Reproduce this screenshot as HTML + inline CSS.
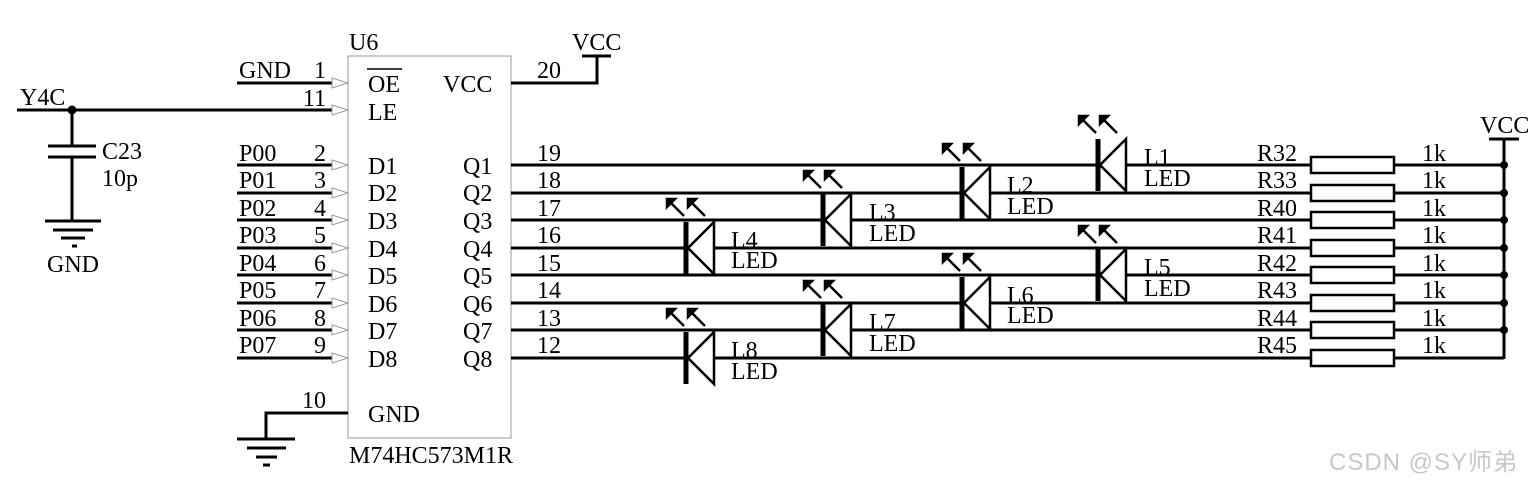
<!DOCTYPE html>
<html><head><meta charset="utf-8"><style>
html,body{margin:0;padding:0;background:#fff;}
svg{display:block;}
text{font-family:"Liberation Serif","DejaVu Serif",serif;font-size:24px;fill:#000;}
.wm{font-family:"Liberation Sans","Noto Sans CJK SC",sans-serif;font-size:24px;fill:#c8c8c8;letter-spacing:1px;}
</style></head><body>
<svg width="1537" height="487" viewBox="0 0 1537 487" xmlns="http://www.w3.org/2000/svg">
<defs>
<g id="arr"><line x1="0" y1="0" x2="-15" y2="-15" stroke="#000" stroke-width="2.5"/><polygon points="-17,-17 -9,-17 -17,-9" fill="#000"/></g>
<g id="led" stroke="#000" stroke-width="2.5" fill="#fff">
<polygon points="28,-26 2,0 28,26"/>
<rect x="-2.5" y="-26" width="5" height="52" fill="#000" stroke="none"/>
<use href="#arr" x="-2" y="-32"/><use href="#arr" x="19" y="-32"/>
</g>
</defs>
<rect x="348" y="56" width="163" height="382" fill="none" stroke="#aaa" stroke-width="1.2"/>
<g stroke="#000" stroke-width="3">
<line x1="237" y1="83" x2="333" y2="83"/>
<line x1="17" y1="110" x2="333" y2="110"/>
<line x1="237" y1="165" x2="333" y2="165"/><line x1="237" y1="193" x2="333" y2="193"/>
<line x1="237" y1="220" x2="333" y2="220"/><line x1="237" y1="248" x2="333" y2="248"/>
<line x1="237" y1="275" x2="333" y2="275"/><line x1="237" y1="303" x2="333" y2="303"/>
<line x1="237" y1="330" x2="333" y2="330"/><line x1="237" y1="358" x2="333" y2="358"/>
<polyline points="348,413 266,413 266,439" fill="none"/>
<line x1="237" y1="439" x2="295" y2="439"/><line x1="247" y1="448" x2="286" y2="448"/>
<line x1="256" y1="457" x2="277" y2="457"/><line x1="263" y1="465" x2="270" y2="465"/>
<line x1="72" y1="110" x2="72" y2="146"/><line x1="48" y1="146" x2="96" y2="146"/>
<line x1="48" y1="157" x2="96" y2="157"/><line x1="72" y1="157" x2="72" y2="221"/>
<line x1="45" y1="221" x2="101" y2="221"/><line x1="53" y1="230" x2="93" y2="230"/>
<line x1="61" y1="238" x2="85" y2="238"/><line x1="72" y1="246" x2="77" y2="246"/>
<polyline points="511,83 597,83 597,56" fill="none"/><line x1="582" y1="56" x2="611" y2="56"/>
<line x1="511" y1="165" x2="1311" y2="165"/><line x1="511" y1="193" x2="1311" y2="193"/>
<line x1="511" y1="220" x2="1311" y2="220"/><line x1="511" y1="248" x2="1311" y2="248"/>
<line x1="511" y1="275" x2="1311" y2="275"/><line x1="511" y1="303" x2="1311" y2="303"/>
<line x1="511" y1="330" x2="1311" y2="330"/><line x1="511" y1="358" x2="1311" y2="358"/>
<line x1="1394" y1="165" x2="1504" y2="165"/><line x1="1394" y1="193" x2="1504" y2="193"/>
<line x1="1394" y1="220" x2="1504" y2="220"/><line x1="1394" y1="248" x2="1504" y2="248"/>
<line x1="1394" y1="275" x2="1504" y2="275"/><line x1="1394" y1="303" x2="1504" y2="303"/>
<line x1="1394" y1="330" x2="1504" y2="330"/><line x1="1394" y1="358" x2="1504" y2="358"/>
<line x1="1504" y1="139" x2="1504" y2="359"/><line x1="1489" y1="139" x2="1519" y2="139"/>
</g>
<g fill="#fff" stroke="#000" stroke-width="2.5">
<rect x="1311" y="157" width="83" height="16"/><rect x="1311" y="185" width="83" height="16"/>
<rect x="1311" y="212" width="83" height="16"/><rect x="1311" y="240" width="83" height="16"/>
<rect x="1311" y="267" width="83" height="16"/><rect x="1311" y="295" width="83" height="16"/>
<rect x="1311" y="322" width="83" height="16"/><rect x="1311" y="350" width="83" height="16"/>
</g>
<g fill="#000">
<circle cx="72" cy="110" r="4.5"/>
<circle cx="1504" cy="165" r="4"/><circle cx="1504" cy="193" r="4"/><circle cx="1504" cy="220" r="4"/>
<circle cx="1504" cy="248" r="4"/><circle cx="1504" cy="275" r="4"/><circle cx="1504" cy="303" r="4"/>
<circle cx="1504" cy="330" r="4"/>
</g>
<g fill="#fff" stroke="#999" stroke-width="1">
<polygon points="332,78 348,83 332,88"/><polygon points="332,105 348,110 332,115"/>
<polygon points="332,160 348,165 332,170"/><polygon points="332,188 348,193 332,198"/>
<polygon points="332,215 348,220 332,225"/><polygon points="332,243 348,248 332,253"/>
<polygon points="332,270 348,275 332,280"/><polygon points="332,298 348,303 332,308"/>
<polygon points="332,325 348,330 332,335"/><polygon points="332,353 348,358 332,363"/>
</g>
<use href="#led" x="1098" y="165"/><use href="#led" x="962" y="193"/>
<use href="#led" x="823" y="220"/><use href="#led" x="686" y="248"/>
<use href="#led" x="1098" y="275"/><use href="#led" x="962" y="303"/>
<use href="#led" x="823" y="330"/><use href="#led" x="686" y="358"/>
<text x="349" y="50">U6</text>
<text x="349" y="463">M74HC573M1R</text>
<text x="20" y="105">Y4C</text>
<text x="102" y="159">C23</text><text x="102" y="186">10p</text>
<text x="47" y="272">GND</text>
<text x="239" y="78">GND</text>
<text x="239" y="161">P00</text><text x="239" y="188">P01</text><text x="239" y="216">P02</text>
<text x="239" y="243">P03</text><text x="239" y="271">P04</text><text x="239" y="298">P05</text>
<text x="239" y="326">P06</text><text x="239" y="353">P07</text>
<g text-anchor="end">
<text x="326" y="78">1</text><text x="326" y="106">11</text>
<text x="326" y="161">2</text><text x="326" y="188">3</text><text x="326" y="216">4</text>
<text x="326" y="243">5</text><text x="326" y="271">6</text><text x="326" y="298">7</text>
<text x="326" y="326">8</text><text x="326" y="353">9</text>
<text x="326" y="408">10</text>
</g>
<text x="368" y="92">OE</text><line x1="367" y1="69" x2="402" y2="69" stroke="#000" stroke-width="1.5"/>
<text x="368" y="120">LE</text>
<text x="443" y="92">VCC</text>
<text x="368" y="174">D1</text><text x="368" y="201">D2</text><text x="368" y="229">D3</text>
<text x="368" y="257">D4</text><text x="368" y="284">D5</text><text x="368" y="312">D6</text>
<text x="368" y="339">D7</text><text x="368" y="367">D8</text>
<text x="368" y="422">GND</text>
<text x="463" y="174">Q1</text><text x="463" y="201">Q2</text><text x="463" y="229">Q3</text>
<text x="463" y="257">Q4</text><text x="463" y="284">Q5</text><text x="463" y="312">Q6</text>
<text x="463" y="339">Q7</text><text x="463" y="367">Q8</text>
<text x="537" y="78">20</text>
<text x="537" y="161">19</text><text x="537" y="188">18</text><text x="537" y="216">17</text>
<text x="537" y="243">16</text><text x="537" y="271">15</text><text x="537" y="298">14</text>
<text x="537" y="326">13</text><text x="537" y="353">12</text>
<text x="572" y="50">VCC</text>
<text x="1480" y="133">VCC</text>
<text x="1144" y="165">L1</text><text x="1144" y="186">LED</text>
<text x="1007" y="193">L2</text><text x="1007" y="214">LED</text>
<text x="869" y="220">L3</text><text x="869" y="241">LED</text>
<text x="731" y="248">L4</text><text x="731" y="268">LED</text>
<text x="1144" y="275">L5</text><text x="1144" y="296">LED</text>
<text x="1007" y="303">L6</text><text x="1007" y="323">LED</text>
<text x="869" y="330">L7</text><text x="869" y="351">LED</text>
<text x="731" y="358">L8</text><text x="731" y="379">LED</text>
<text x="1257" y="161">R32</text><text x="1257" y="188">R33</text><text x="1257" y="216">R40</text>
<text x="1257" y="243">R41</text><text x="1257" y="271">R42</text><text x="1257" y="298">R43</text>
<text x="1257" y="326">R44</text><text x="1257" y="353">R45</text>
<text x="1422" y="161">1k</text><text x="1422" y="188">1k</text><text x="1422" y="216">1k</text>
<text x="1422" y="243">1k</text><text x="1422" y="271">1k</text><text x="1422" y="298">1k</text>
<text x="1422" y="326">1k</text><text x="1422" y="353">1k</text>
<text class="wm" x="1329" y="470">CSDN @SY师弟</text>
</svg>
</body></html>
